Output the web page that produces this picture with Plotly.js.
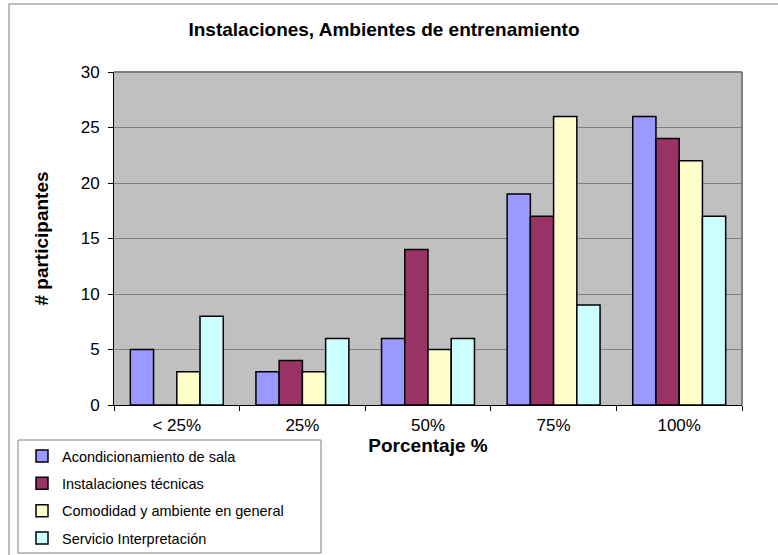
<!DOCTYPE html>
<html>
<head>
<meta charset="utf-8">
<script src="https://cdn.plot.ly/plotly-3.0.1.min.js"></script>
<style>
  html, body { margin: 0; padding: 0; background: #ffffff; }
  #chart { width: 778px; height: 555px; }
</style>
</head>
<body>
<div id="chart"></div>
<script>
const categories = ["< 25%", "25%", "50%", "75%", "100%"];
const seriesNames = ["Acondicionamiento de sala", "Instalaciones técnicas", "Comodidad y ambiente en general", "Servicio Interpretación"];
const acondicionamiento = [5, 3, 6, 19, 26];
const instalaciones = [0, 4, 14, 17, 24];
const comodidad = [3, 3, 5, 26, 22];
const interpretacion = [8, 6, 6, 9, 17];
const colors = ["#9999FF", "#993366", "#FFFFCC", "#CCFFFF"];
const yTicks = [0, 5, 10, 15, 20, 25, 30];

const seriesValues = [acondicionamiento, instalaciones, comodidad, interpretacion];
const traces = seriesValues.map((vals, i) => ({
  type: "bar",
  name: seriesNames[i],
  x: categories,
  y: vals,
  legendgroup: "g" + i,
  marker: { color: colors[i], line: { color: "#000000", width: 1.5 } },
  hoverinfo: "x+y+name"
}));

// pixel helpers for paper coords (plot area 114..742 x, 72..405 y)
const L = 114, R = 742, T = 72, B = 405;
const px = v => (v - L) / (R - L);
const py = v => (B - v) / (B - T);

const FONT = "Liberation Sans, Arial, sans-serif";

const layout = {
  width: 778, height: 555,
  margin: { l: L, r: 778 - R, t: T, b: 555 - B, pad: 0, autoexpand: false },
  paper_bgcolor: "#ffffff",
  plot_bgcolor: "#C0C0C0",
  font: { family: FONT, color: "#000000" },
  title: {
    text: "<b>Instalaciones, Ambientes de entrenamiento</b>",
    font: { size: 19, family: FONT, color: "#000000" },
    x: 384 / 778, xanchor: "center", xref: "container",
    y: 1 - 29 / 555, yanchor: "middle", yref: "container"
  },
  barmode: "group",
  bargap: 0.26,
  bargroupgap: 0,
  showlegend: true,
  legend: {
    x: px(22), xanchor: "left",
    y: py(440), yanchor: "top",
    bgcolor: "rgba(0,0,0,0)",
    borderwidth: 0,
    font: { size: 14.5, family: FONT, color: "#000000" },
    traceorder: "grouped",
    tracegroupgap: 5.5
  },
  xaxis: {
    type: "category",
    tickson: "boundaries",
    ticks: "outside", ticklen: 5, tickcolor: "#000000", tickwidth: 1,
    ticklabelstandoff: 5,
    showline: true, linecolor: "#000000", linewidth: 1,
    showgrid: false, zeroline: false,
    tickfont: { size: 17, color: "#000000" },
    title: { text: "<b>Porcentaje %</b>", font: { size: 19, color: "#000000" }, standoff: 3 },
    automargin: false
  },
  yaxis: {
    range: [0, 30],
    tickvals: yTicks,
    ticks: "outside", ticklen: 5, tickcolor: "#000000", tickwidth: 1,
    ticklabelstandoff: 5,
    showline: true, linecolor: "#000000", linewidth: 1,
    showgrid: true, gridcolor: "#808080", gridwidth: 1,
    zeroline: false,
    tickfont: { size: 17, color: "#000000" },
    title: { text: "<b># participantes</b>", font: { size: 19, color: "#000000" }, standoff: 27 },
    automargin: false
  },
  shapes: [
    // plot area top/right border
    { type: "line", xref: "paper", yref: "paper", x0: 0, x1: 1, y0: 1, y1: 1, line: { color: "#808080", width: 2 } },
    { type: "line", xref: "paper", yref: "paper", x0: 1, x1: 1, y0: 0, y1: 1, line: { color: "#808080", width: 2 } },
    // outer chart frame (left/top)
    { type: "line", xref: "paper", yref: "paper", x0: px(9), x1: px(9), y0: py(4), y1: py(560), line: { color: "#808080", width: 1 } },
    { type: "line", xref: "paper", yref: "paper", x0: px(9), x1: px(790), y0: py(4), y1: py(4), line: { color: "#808080", width: 1 } },
    // legend box
    { type: "rect", xref: "paper", yref: "paper", x0: px(18), x1: px(321), y0: py(553), y1: py(440), line: { color: "#808080", width: 1 }, fillcolor: "rgba(0,0,0,0)" }
  ]
};

Plotly.newPlot("chart", traces, layout, { displayModeBar: false, responsive: false });
</script>
</body>
</html>
